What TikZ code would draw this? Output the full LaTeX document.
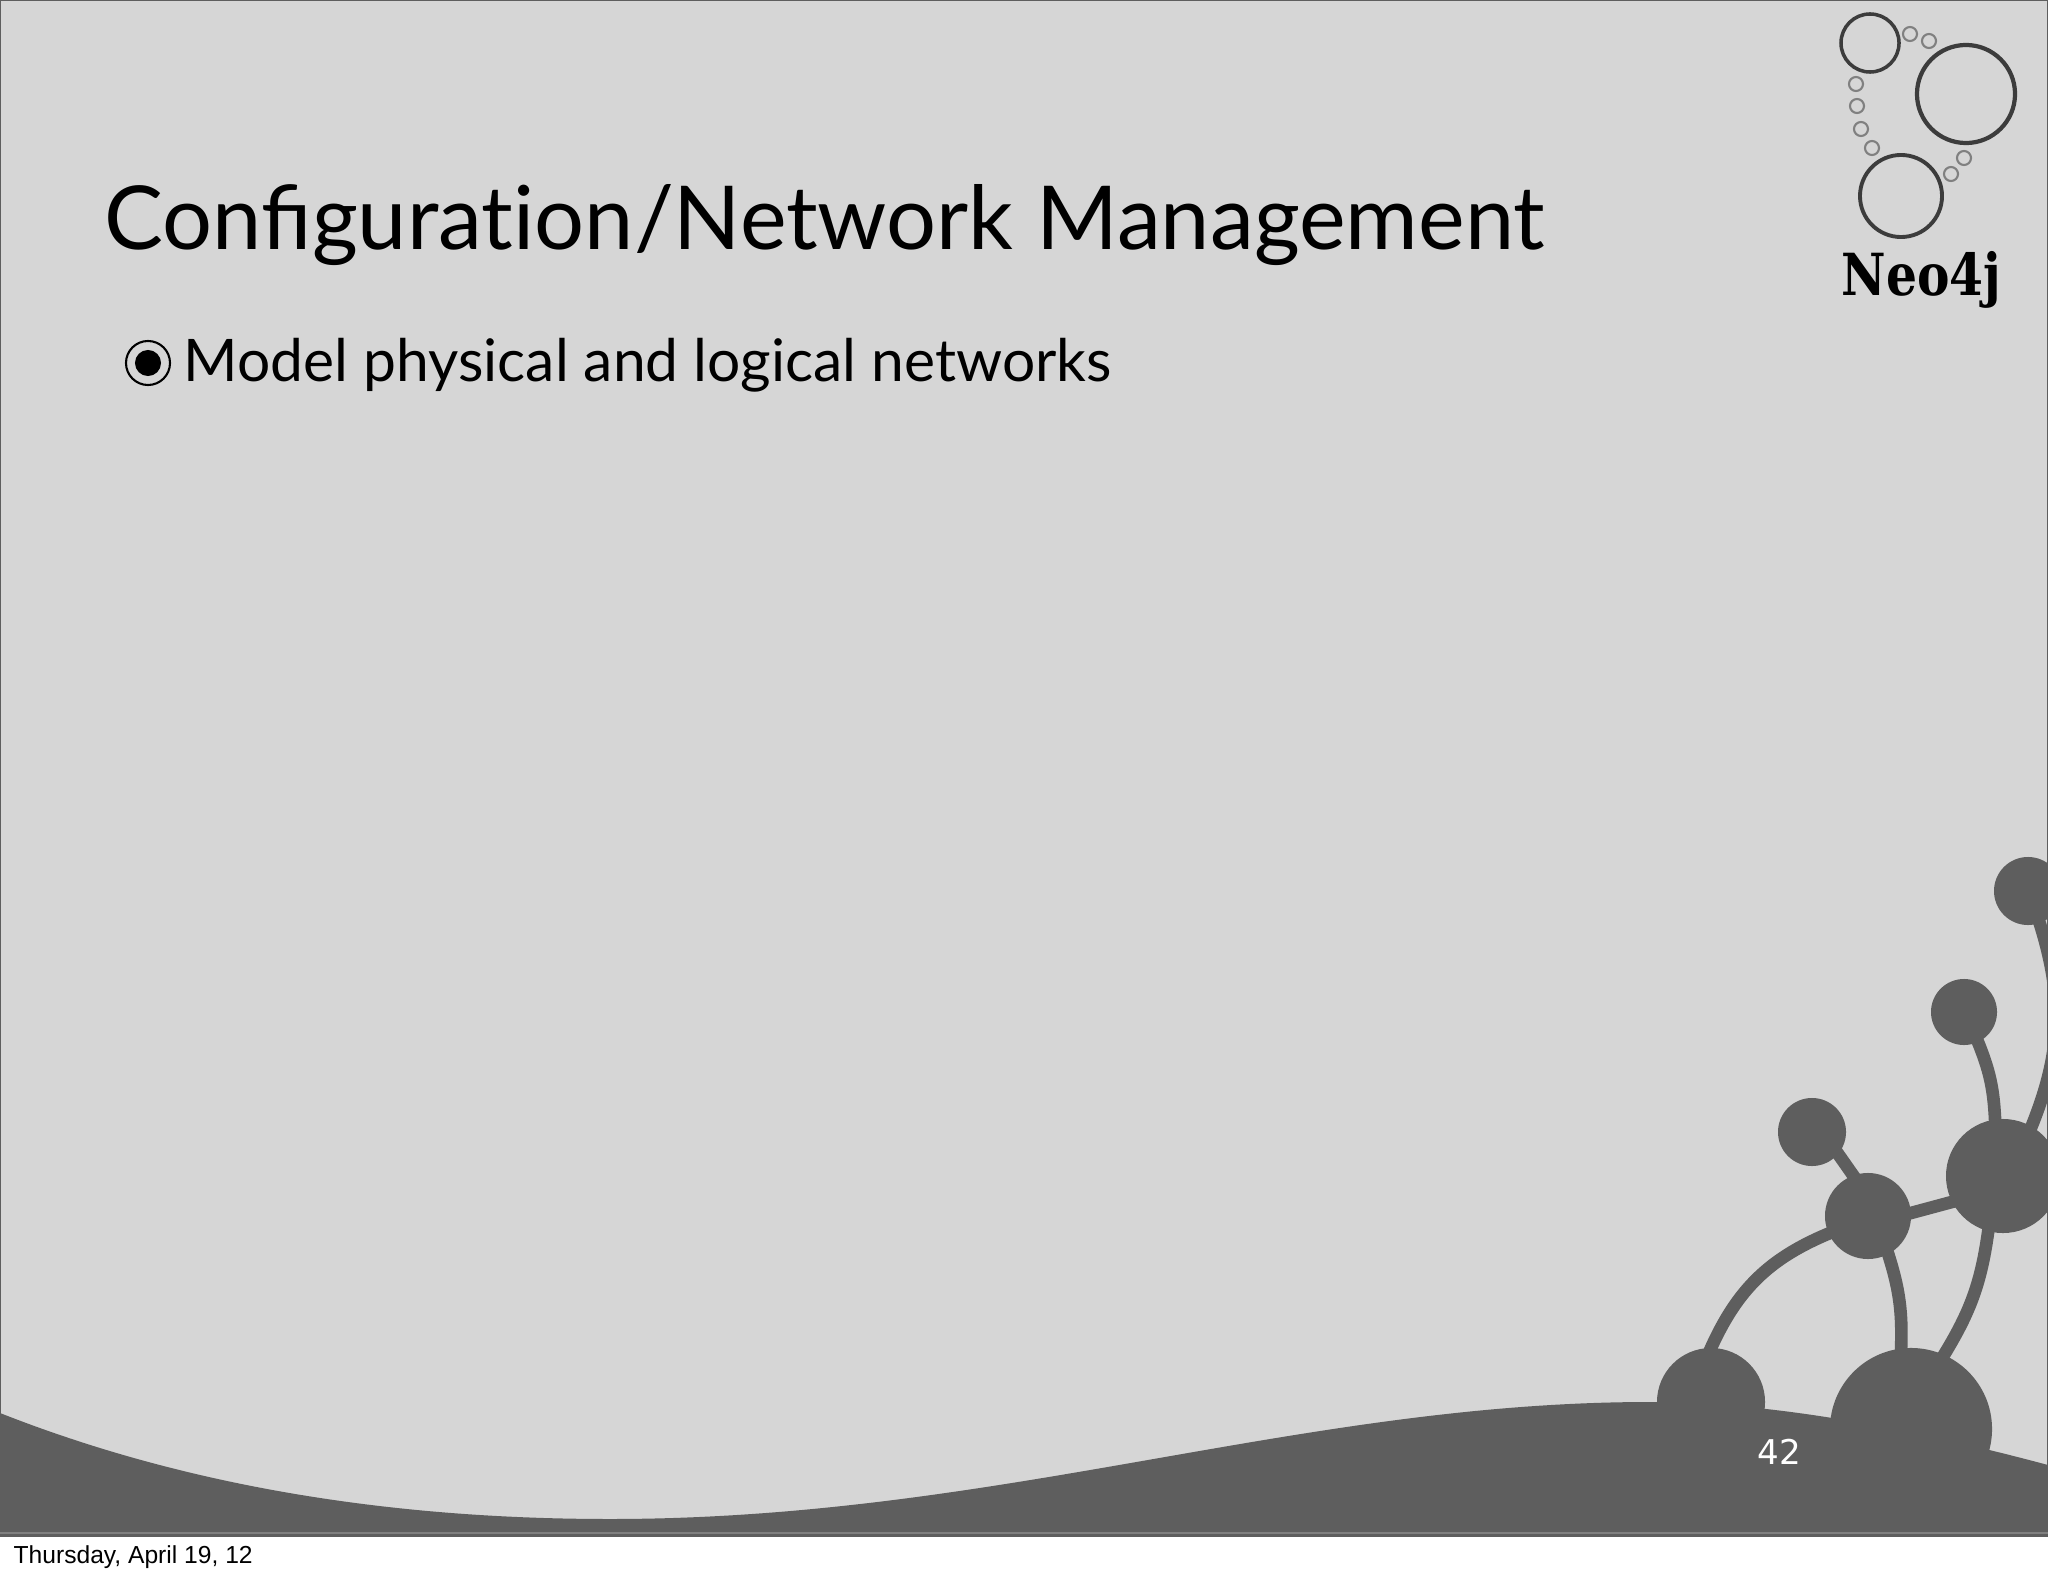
\documentclass[tikz,border=0pt]{standalone}
\usepackage{fontspec}
\setmainfont{Lato}
\newfontfamily\datefont{Liberation Sans}
\newfontfamily\numfont{DejaVu Sans}
\newfontfamily\logofont{DejaVu Serif}
\definecolor{slidebg}{HTML}{D6D6D6}
\definecolor{slidedark}{HTML}{5E5E5E}
\definecolor{logoring}{HTML}{3C3C3C}
\definecolor{logodot}{HTML}{808080}
\tikzset{
  txt/.style={inner sep=0pt,anchor=base west},
  disc/.style={circle,inner sep=0pt,outer sep=0pt,fill=slidedark},
  link/.style={draw=slidedark,line width=3.6pt,shorten >=-1pt,shorten <=-1pt},
  ring/.style={circle,inner sep=0pt,draw=logoring,line width=1pt},
  bubble/.style={circle,inner sep=0pt,minimum size=0.14cm,draw=logodot,line width=0.6pt}
}
\begin{document}
\begin{tikzpicture}[x=0.01cm,y=-0.01cm]
      \useasboundingbox (0,0) rectangle (2048,1576);
      \fill[white] (0,0) rectangle (2048,1576);
      \fill[slidebg] (0,0) rectangle (2048,1536);
      \begin{scope}
        \clip (0,0) rectangle (2048,1536);
        \fill[slidedark] (0,1413) .. controls (170,1480) and (370,1519) .. (610,1519)
          .. controls (1000,1519) and (1300,1402) .. (1650,1402)
          .. controls (1750,1402) and (1880,1420) .. (2048,1465)
          -- (2048,1536) -- (0,1536) -- cycle;
        \node[disc,minimum size=1.08cm] (m1) at (1711,1402) {};
        \node[disc,minimum size=1.62cm] (m2) at (1911,1429) {};
        \node[disc,minimum size=0.68cm] (a) at (1812,1132) {};
        \node[disc,minimum size=0.86cm] (b) at (1868,1216) {};
        \node[disc,minimum size=0.66cm] (c) at (1964,1012) {};
        \node[disc,minimum size=1.14cm] (d) at (2003,1176) {};
        \node[disc,minimum size=0.68cm] (e) at (2028,891) {};
        \begin{scope}[link]
          \draw (a.-40) to (b.110);
          \draw (b.4) to (d.207);
          \draw (b.204) to[bend right=22] (m1.north);
          \draw (b.-62) to[bend left=10] (m2.97);
          \draw (d.-105) to[bend left=12] (m2.66);
          \draw (c.-65) to[bend left=10] (d.98);
          \draw (e.-70) to[bend left=20] (d.60);
        \end{scope}
      \end{scope}
      \draw[slidedark,line width=0.6pt] (0,0) rectangle (2048,1536);
      \draw[logodot,line width=0.4pt] (0,1533) -- (2048,1533);
      \node[ring,minimum size=0.58cm] (r1) at (1870,43) {};
      \node[ring,minimum size=0.98cm,line width=1.2pt] (r2) at (1966,94) {};
      \node[ring,minimum size=0.82cm,line width=1.1pt] (r3) at (1901,196) {};
      \node[bubble] (s1) at (1910,34) {};
      \node[bubble] (s2) at (1929,41) {};
      \node[bubble] (s3) at (1856,84) {};
      \node[bubble] (s4) at (1857,106) {};
      \node[bubble] (s5) at (1861,129) {};
      \node[bubble] (s6) at (1872,148) {};
      \node[bubble] (s7) at (1964,158) {};
      \node[bubble] (s8) at (1951,174) {};
      \node[txt] (logo) at (1841,295) {\scalebox{0.84}[1]{\logofont\bfseries\fontsize{16.5pt}{18pt}\selectfont Neo4j}};
      \node[txt] (title) at (104,249) {\fontsize{25.1pt}{28pt}\selectfont Configurat\kern0pt ion/Network Management};
      \node[circle,inner sep=0pt,minimum size=0.44cm,draw=black,line width=0.6pt] (mark) at (148,363) {};
      \node[disc,fill=black,minimum size=0.26cm] (dot) at (mark) {};
      \node[txt] (item) at (183,381) {\fontsize{16.7pt}{20pt}\selectfont Model physical and logical networks};
      \node[txt,text=white] (page) at (1757,1464) {\numfont\fontsize{9.7pt}{11pt}\selectfont 42};
      \node[txt] (date) at (13,1563) {\datefont\fontsize{7pt}{8pt}\selectfont Thursday, April 19, 12};
    \end{tikzpicture}
\end{document}
